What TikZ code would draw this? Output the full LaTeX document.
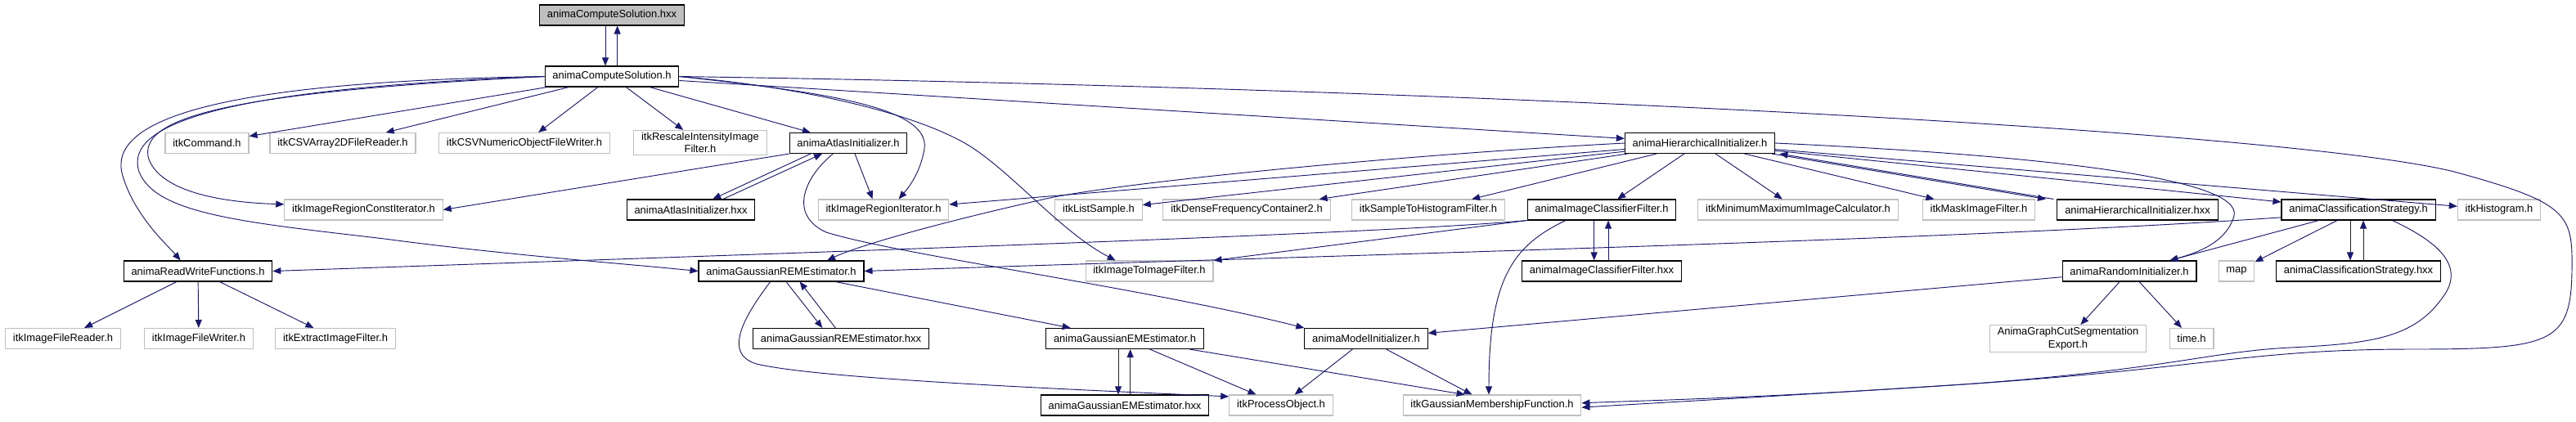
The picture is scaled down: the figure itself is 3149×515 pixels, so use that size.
\documentclass[tikz,border=0pt]{standalone}
\usepackage{fontspec}
\setmainfont{Liberation Sans}
\usetikzlibrary{arrows.meta}
\definecolor{dxblue}{RGB}{25,25,112}
\definecolor{dxgrey}{RGB}{191,191,191}

\begin{document}
\begin{tikzpicture}[x=0.75pt,y=-0.75pt,font=\fontsize{9.7}{11.5}\selectfont,
      fl/.style={draw=black,line width=0.8pt,fill=white,inner xsep=7pt,inner ysep=2pt,minimum height=18.75pt,align=center},
      sys/.style={fl,draw=dxgrey},
      dep/.style={dxblue,line width=0.7pt,-{Triangle[length=7.5pt,width=6pt]}}]
    \useasboundingbox (0,0) rectangle (3149,515);
    \node[fl,fill=dxgrey] (root) at (748,18.5) {animaComputeSolution.hxx};
    \node[fl]  (sol)   at (748,93.5)  {animaComputeSolution.h};
    \node[sys] (cmd)   at (253,175)   {itkCommand.h};
    \node[sys] (csvr)  at (419,175)   {itkCSVArray2DFileReader.h};
    \node[sys] (csvw)  at (641,175)   {itkCSVNumericObjectFileWriter.h};
    \node[sys] (resc)  at (856,174.5) {itkRescaleIntensityImage\\Filter.h};
    \node[fl]  (atl)   at (1037,175)  {animaAtlasInitializer.h};
    \node[fl]  (hier)  at (2078,175)  {animaHierarchicalInitializer.h};
    \node[sys] (rci)   at (444.5,256.5) {itkImageRegionConstIterator.h};
    \node[fl]  (atlx)  at (844.5,256.5) {animaAtlasInitializer.hxx};
    \node[sys] (rit)   at (1080,256.5) {itkImageRegionIterator.h};
    \node[sys] (lsmp)  at (1343,256.5) {itkListSample.h};
    \node[sys] (dens)  at (1524,256.5) {itkDenseFrequencyContainer2.h};
    \node[sys] (s2h)   at (1746,256.5) {itkSampleToHistogramFilter.h};
    \node[fl]  (icf)   at (1958,256.5) {animaImageClassifierFilter.h};
    \node[sys] (mmc)   at (2198,256.5) {itkMinimumMaximumImageCalculator.h};
    \node[sys] (mask)  at (2419,256.5) {itkMaskImageFilter.h};
    \node[fl]  (hierx) at (2613,256.5) {animaHierarchicalInitializer.hxx};
    \node[fl]  (strat) at (2883,256.5) {animaClassificationStrategy.h};
    \node[sys] (hist)  at (3055,256.5) {itkHistogram.h};
    \node[fl]  (rwf)   at (242,331.5) {animaReadWriteFunctions.h};
    \node[fl]  (rem)   at (955,331.5) {animaGaussianREMEstimator.h};
    \node[sys] (i2i)   at (1405,331.5) {itkImageToImageFilter.h};
    \node[fl]  (icfx)  at (1958,331.5) {animaImageClassifierFilter.hxx};
    \node[fl]  (rnd)   at (2603,331.5) {animaRandomInitializer.h};
    \node[sys] (map)   at (2734,331.5) {map};
    \node[fl]  (stratx) at (2883,331.5) {animaClassificationStrategy.hxx};
    \node[sys] (rdr)   at (77,414)    {itkImageFileReader.h};
    \node[sys] (wrt)   at (243,414)   {itkImageFileWriter.h};
    \node[sys] (extr)  at (410,414)   {itkExtractImageFilter.h};
    \node[fl]  (remx)  at (1028,414)  {animaGaussianREMEstimator.hxx};
    \node[fl]  (em)    at (1375,414)  {animaGaussianEMEstimator.h};
    \node[fl]  (mdl)   at (1670,414)  {animaModelInitializer.h};
    \node[sys] (gcut)  at (2528,414)  {AnimaGraphCutSegmentation\\Export.h};
    \node[sys] (tm)    at (2679,414)  {time.h};
    \node[fl]  (emx)   at (1375,495.5) {animaGaussianEMEstimator.hxx};
    \node[sys] (po)    at (1566,495.5) {itkProcessObject.h};
    \node[sys] (gmf)   at (1824,495.5) {itkGaussianMembershipFunction.h};
    \draw[dep] ([xshift=-6pt]root.south) -- ([xshift=-6pt]sol.north);
    \draw[dep] ([xshift=5pt]sol.north) -- ([xshift=5pt]root.south);
    \draw[dep] (sol) -- (cmd); \draw[dep] (sol) -- (csvr); \draw[dep] (sol) -- (csvw);
    \draw[dep] (sol) -- (resc); \draw[dep] (sol) -- (atl); \draw[dep] (sol) -- (hier);
    \draw[dep] (sol.west) .. controls (250,100) and (130,150) .. (150,215)
      .. controls (165,265) and (205,300) .. ([xshift=-16pt]rwf.north);
    \draw[dep] (sol.west) .. controls (300,112) and (165,140) .. (182,195)
      .. controls (200,240) and (290,248) .. ([yshift=5pt]rci.west);
    \draw[dep] (sol.west) .. controls (280,108) and (150,150) .. (170,210)
      .. controls (190,262) and (300,272) .. (470,292) .. controls (620,312) and (760,322) .. (rem.west);
    \draw[dep] (sol.east) .. controls (1000,112) and (1138,130) .. (1130,182)
      .. controls (1125,212) and (1110,230) .. ([xshift=14pt]rit.north);
    \draw[dep] (sol.east) .. controls (1000,108) and (1140,145) .. (1195,185)
      .. controls (1245,220) and (1300,285) .. ([xshift=-31pt]i2i.north);
    \draw[dep] (sol.east) .. controls (1800,108) and (2800,160) .. (3000,210)
      .. controls (3140,248) and (3145,262) .. (3144,330) .. controls (3143,420) and (3120,427) .. (2950,427)
      .. controls (2750,427) and (2700,450) .. (2400,470) .. controls (2150,487) and (2000,490) .. ([yshift=2pt]gmf.east);
    \draw[dep] (atl.south west) -- (rci.east);
    \draw[dep] ([xshift=-34.5pt]atl.south) -- ([xshift=20pt]atlx.north);
    \draw[dep] ([xshift=29.5pt]atlx.north) -- ([xshift=-24pt]atl.south);
    \draw[dep] ([xshift=6pt]atl.south) -- ([xshift=-10pt]rit.north);
    \draw[dep] ([xshift=-14pt]atl.south) .. controls (985,215) and (962,262) .. (1010,284)
      .. controls (1100,312) and (1400,352) .. (mdl.north west);
    \draw[dep] (hier.west) .. controls (1700,190) and (1350,225) .. (1270,245)
      .. controls (1150,272) and (1050,300) .. ([xshift=42pt]rem.north);
    \draw[dep] (hier) -- (rit); \draw[dep] (hier) -- (lsmp); \draw[dep] (hier) -- (dens);
    \draw[dep] (hier) -- (s2h); \draw[dep] (hier) -- (icf); \draw[dep] (hier) -- (mmc);
    \draw[dep] (hier) -- (mask); \draw[dep] (hier) -- (strat); \draw[dep] (hier) -- (hist);
    \draw[dep] ([xshift=66pt]hier.south) -- ([xshift=-84pt]hierx.north);
    \draw[dep] ([xshift=-77pt]hierx.north) -- ([xshift=73pt]hier.south);
    \draw[dep] (hier.east) .. controls (2500,190) and (2742,218) .. (2731,264)
      .. controls (2722,295) and (2690,308) .. ([xshift=37pt]rnd.north);
    \draw[dep] (strat) -- ([xshift=37pt]rnd.north);
    \draw[dep] (strat) -- (map);
    \draw[dep] ([xshift=-7.5pt]strat.south) -- ([xshift=-7.5pt]stratx.north);
    \draw[dep] ([xshift=4.5pt]stratx.north) -- ([xshift=4.5pt]strat.south);
    \draw[dep] ([yshift=-7pt]strat.west) .. controls (2400,293) and (1700,310) .. (rem.east);
    \draw[dep] ([xshift=31pt]strat.south) .. controls (2990,300) and (3012,330) .. (2985,365)
      .. controls (2950,413) and (2900,420) .. (2800,425) .. controls (2700,430) and (2650,452) .. (2400,470)
      .. controls (2150,486) and (2000,494) .. ([yshift=-2pt]gmf.east);
    \draw[dep] (icf.south west) .. controls (1700,285) and (1100,305) .. (rwf.east);
    \draw[dep] (icf.south west) -- (i2i.north east);
    \draw[dep] ([xshift=-33pt]icf.south) .. controls (1850,300) and (1820,340) .. ([xshift=-3pt]gmf.north);
    \draw[dep] ([xshift=-7pt]icf.south) -- ([xshift=-7pt]icfx.north);
    \draw[dep] ([xshift=6pt]icfx.north) -- ([xshift=6pt]icf.south);
    \draw[dep] (rwf) -- (rdr); \draw[dep] (rwf) -- (wrt); \draw[dep] (rwf) -- (extr);
    \draw[dep] ([xshift=4.5pt]rem.south) -- ([xshift=-17pt]remx.north);
    \draw[dep] ([xshift=-5pt]remx.north) -- ([xshift=17pt]rem.south);
    \draw[dep] (rem) -- (em);
    \draw[dep] ([xshift=-10pt]rem.south) .. controls (915,380) and (880,432) .. (925,445)
      .. controls (1000,463) and (1300,476) .. ([yshift=8pt]po.west);
    \draw[dep] ([xshift=-6pt]em.south) -- ([xshift=-6pt]emx.north);
    \draw[dep] ([xshift=5pt]emx.north) -- ([xshift=5pt]em.south);
    \draw[dep] (em) -- (po); \draw[dep] (em) -- ([xshift=-25pt]gmf.north);
    \draw[dep] (mdl) -- (po); \draw[dep] (mdl) -- (gmf);
    \draw[dep] (rnd) -- (mdl); \draw[dep] (rnd) -- (gcut); \draw[dep] (rnd) -- (tm);
  \end{tikzpicture}
\end{document}
